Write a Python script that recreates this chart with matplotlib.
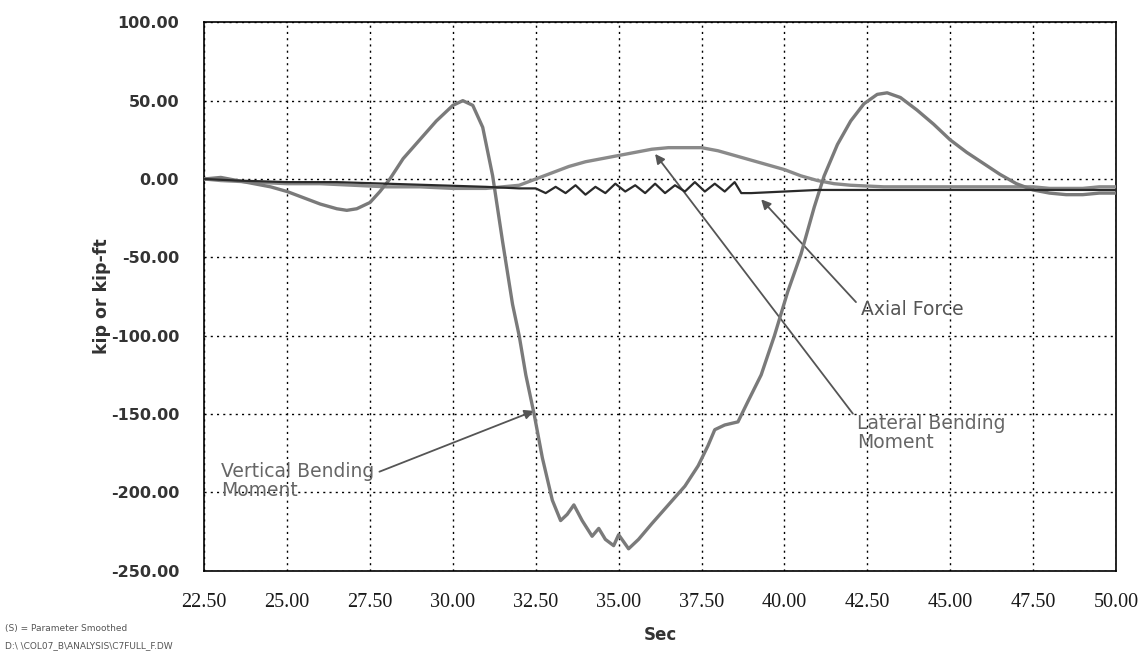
import matplotlib
matplotlib.use("Agg")
import matplotlib.pyplot as plt
from matplotlib.ticker import FormatStrFormatter

# ---------------- data ----------------
vbm_t = [22.5, 23.0, 23.5, 24.0, 24.5, 25.0, 25.5, 26.0, 26.5, 26.8, 27.1, 27.5, 27.8, 28.1,
         28.5, 29.0, 29.5, 30.0, 30.3, 30.6, 30.9, 31.2, 31.5, 31.8, 32.0, 32.2, 32.45, 32.7,
         33.0, 33.25, 33.45, 33.65, 33.9, 34.2, 34.4, 34.6, 34.85, 35.0, 35.3, 35.6, 36.0,
         36.5, 37.0, 37.4, 37.7, 37.9, 38.2, 38.6, 38.9, 39.3, 39.7, 40.1, 40.5, 40.9, 41.2,
         41.6, 42.0, 42.4, 42.8, 43.1, 43.5, 44.0, 44.5, 45.0, 45.5, 46.0, 46.5, 47.0, 47.5,
         48.0, 48.5, 49.0, 49.5, 50.0]
vbm_v = [0, 1, -1, -3, -5, -8, -12, -16, -19, -20, -19, -15, -8, 0,
         13, 25, 37, 47, 50, 47, 33, 2, -40, -80, -100, -125, -150, -178,
         -205, -218, -214, -208, -218, -228, -223, -230, -234, -227, -236, -230, -220,
         -208, -196, -183, -170, -160, -157, -155, -142, -125, -100, -72, -48, -18, 2,
         22, 37, 48, 54, 55, 52, 44, 35, 25, 17, 10, 3, -3, -7,
         -9, -10, -10, -9, -9]

lbm_t = [22.5, 23.0, 24.0, 25.0, 26.0, 27.0, 28.0, 29.0, 30.0, 31.0, 32.0, 32.5, 33.0, 33.5,
         34.0, 34.5, 35.0, 35.5, 36.0, 36.5, 37.0, 37.5, 38.0, 38.5, 39.0, 39.5, 40.0, 40.5,
         41.0, 41.5, 42.0, 43.0, 44.0, 45.0, 46.0, 47.0, 47.5, 48.0, 48.5, 49.0, 49.5, 50.0]
lbm_v = [0, -1, -2, -3, -3, -4, -5, -5, -6, -6, -4, 0, 4, 8,
         11, 13, 15, 17, 19, 20, 20, 20, 18, 15, 12, 9, 6, 2,
         -1, -3, -4, -5, -5, -5, -5, -5, -5, -6, -6, -6, -5, -5]

af_t = [22.5, 23.5, 25.0, 26.5, 28.0, 29.5, 31.0, 32.0, 32.5, 32.8, 33.1, 33.4, 33.7, 34.0,
        34.3, 34.6, 34.9, 35.2, 35.5, 35.8, 36.1, 36.4, 36.7, 37.0, 37.3, 37.6, 37.9, 38.2,
        38.5, 38.7, 39.0, 40.0, 41.0, 42.0, 43.0, 44.0, 45.0, 46.0, 47.0, 48.0, 49.0, 50.0]
af_v = [0, -1, -2, -2, -3, -4, -5, -6, -6, -9, -5, -9, -4, -10,
        -5, -9, -3, -8, -4, -9, -3, -9, -4, -8, -2, -8, -3, -8,
        -2, -9, -9, -8, -7, -7, -7, -7, -7, -7, -7, -7, -7, -7]

x_ticks = [22.5, 25.0, 27.5, 30.0, 32.5, 35.0, 37.5, 40.0, 42.5, 45.0, 47.5, 50.0]
y_ticks = [-250, -200, -150, -100, -50, 0, 50, 100]

# ---------------- figure ----------------
fig = plt.figure(figsize=(11.41, 6.56), dpi=100)
ax = fig.add_axes([0.179, 0.130, 0.799, 0.836])

ax.plot(lbm_t, lbm_v, color="#8a8a8a", lw=2.4, zorder=3)
ax.plot(vbm_t, vbm_v, color="#7a7a7a", lw=2.4, zorder=4)
ax.plot(af_t, af_v, color="#2a2a2a", lw=1.6, zorder=5)

ax.set_xlim(22.5, 50.0)
ax.set_ylim(-250, 100)
ax.set_xticks(x_ticks)
ax.set_yticks(y_ticks)
ax.xaxis.set_major_formatter(FormatStrFormatter("%.2f"))
ax.yaxis.set_major_formatter(FormatStrFormatter("%.2f"))
ax.grid(True, color="black", linestyle=(0, (1.5, 3)), lw=1.0)
ax.tick_params(axis="x", length=0, pad=16)
ax.tick_params(axis="y", length=0, pad=18)
for lab in ax.get_xticklabels():
    lab.set_fontfamily("Liberation Serif")
    lab.set_fontsize(14.5)
    lab.set_color("#1a1a1a")
for lab in ax.get_yticklabels():
    lab.set_fontfamily("DejaVu Sans")
    lab.set_fontsize(11.5)
    lab.set_fontweight("bold")
    lab.set_color("#333333")
for s in ax.spines.values():
    s.set_color("black")
    s.set_linewidth(1.2)

ax.set_xlabel("Sec", fontsize=12, fontweight="bold", color="#333333", labelpad=10)
ax.set_ylabel("kip or kip-ft", fontsize=12.5, fontweight="bold", color="#333333", labelpad=0)

arrow = dict(arrowstyle="-|>", color="#555555", lw=1.3, mutation_scale=14, shrinkA=2, shrinkB=0)
ax.annotate("Vertical Bending\nMoment", xy=(32.45, -148), xytext=(23.0, -193),
            fontsize=13.5, color="#666666", ha="left", va="center", linespacing=1.0,
            arrowprops=dict(arrow, relpos=(1.0, 0.7)))
ax.annotate("Axial Force", xy=(39.3, -13), xytext=(42.3, -83),
            fontsize=13.5, color="#555555", ha="left", va="center",
            arrowprops=dict(arrow, relpos=(0.0, 0.6)))
ax.annotate("Lateral Bending\nMoment", xy=(36.1, 16), xytext=(42.2, -162),
            fontsize=13.5, color="#666666", ha="left", va="center", linespacing=1.0,
            arrowprops=dict(arrow, relpos=(0.0, 0.85)))

fig.text(0.004, 0.042, "(S) = Parameter Smoothed", fontsize=6.5, color="#555555", ha="left", va="center")
fig.text(0.004, 0.016, "D:\\ \\COL07_B\\ANALYSIS\\C7FULL_F.DW", fontsize=6.5, color="#555555",
         ha="left", va="center")

fig.savefig("out.png", dpi=100)
